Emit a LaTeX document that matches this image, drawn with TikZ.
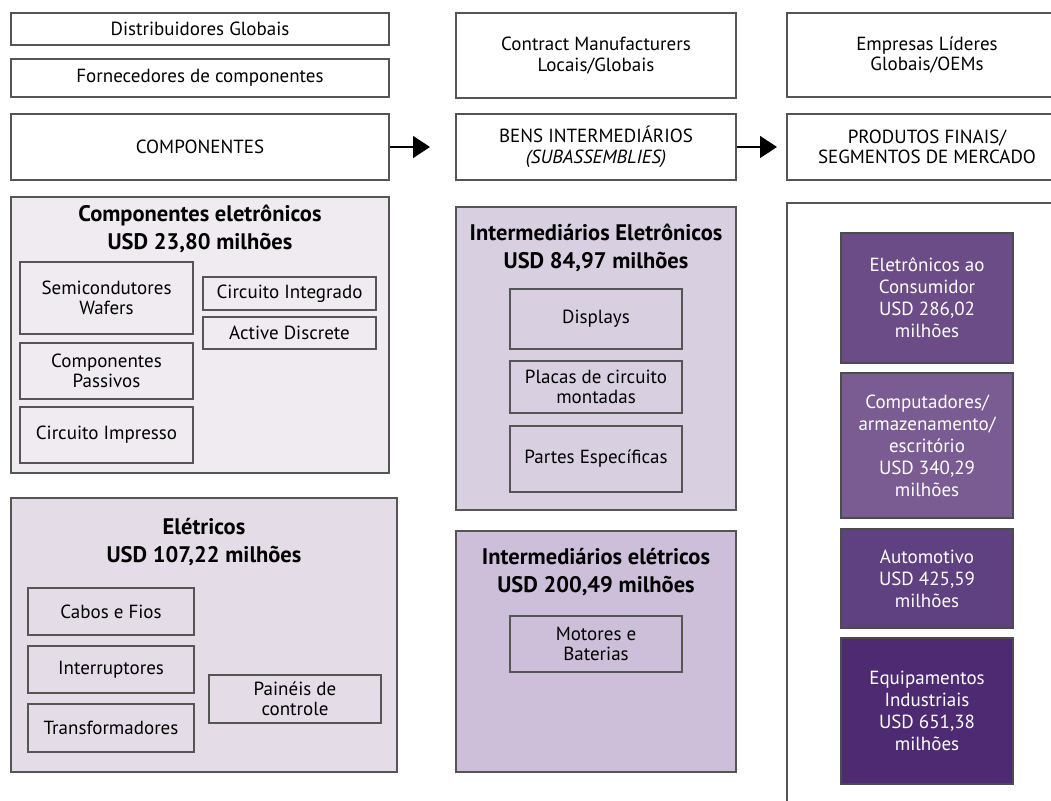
\documentclass[tikz,border=0pt]{standalone}
\usepackage{fontspec}
\setmainfont{PT Sans}
\usepackage{tikz}
\usetikzlibrary{arrows.meta,positioning}
\definecolor{linegray}{HTML}{555555}
\definecolor{compfill}{HTML}{EFEBF0}
\definecolor{eletfill}{HTML}{E4DDE8}
\definecolor{intfill}{HTML}{D8D0E1}
\definecolor{intelfill}{HTML}{CDBFD9}
\definecolor{segA}{HTML}{6B4C86}
\definecolor{segB}{HTML}{7A5C92}
\definecolor{segC}{HTML}{5F4080}
\definecolor{segD}{HTML}{4E2A72}
\tikzset{
  box/.style={draw=linegray, line width=1.1pt, rectangle, align=center, inner sep=0pt,
    font=\fontsize{19}{20.5}\selectfont},
  grouptitle/.style={align=center, inner sep=0pt, font=\fontsize{22.5}{27.5}\selectfont\bfseries},
  segbox/.style={box, draw=black!70, text=white, minimum width=172pt, font=\fontsize{19}{22}\selectfont},
  flow/.style={line width=1.4pt, -{Triangle[length=17pt,width=22pt]}}
}

\begin{document}
\begin{tikzpicture}[x=1pt,y=-1pt]
\useasboundingbox[fill=white] (0,0) rectangle (1051,800);
\clip (0,0) rectangle (1051,800);

\node[box, minimum width=378pt, minimum height=32pt] (dist) at (200,29) {Distribuidores Globais};
\node[box, minimum width=378pt, minimum height=38pt] (forn) at (200,78) {Fornecedores de componentes};
\node[box, minimum width=378pt, minimum height=66pt] (comp) at (200,147) {COMPONENTES};

\node[box, minimum width=280pt, minimum height=85pt] (contract) at (596,55.5) {Contract Manufacturers\\Locais/Globais};
\node[box, minimum width=280pt, minimum height=66pt] (bens) at (596,147) {BENS INTERMEDIÁRIOS\\\textit{(SUBASSEMBLIES)}};

\node[box, minimum width=280pt, minimum height=84pt] (lideres) at (927,55) {Empresas Líderes\\Globais/OEMs};
\node[box, minimum width=280pt, minimum height=66pt] (produtos) at (927,147) {PRODUTOS FINAIS/\\SEGMENTOS DE MERCADO};

\coordinate (tipA) at (430,147);
\coordinate (tipB) at (777,147);
\draw[flow] (comp.east) -- (tipA);
\draw[flow] (bens.east) -- (tipB);

% componentes eletronicos
\node[box, fill=compfill, minimum width=378pt, minimum height=276pt] (compel) at (200,335) {};
\node[grouptitle] (compeltitle) at (200,229) {Componentes eletrônicos\\USD 23,80 milhões};
\node[box, minimum width=173pt, minimum height=72pt] (semi) at (106.5,298) {Semicondutores\\Wafers};
\node[box, minimum width=173pt, minimum height=56pt] (passivos) at (106.5,371) {Componentes\\Passivos};
\node[box, minimum width=173pt, minimum height=56pt] (impresso) at (106.5,435) {Circuito Impresso};
\node[box, minimum width=173pt, minimum height=33pt] (integrado) at (289.5,293.5) {Circuito Integrado};
\node[box, minimum width=173pt, minimum height=32pt] (discrete) at (289.5,333) {Active Discrete};

% eletricos
\node[box, fill=eletfill, minimum width=386pt, minimum height=274pt] (elet) at (204,635) {};
\node[grouptitle] (elettitle) at (204,542) {Elétricos\\USD 107,22 milhões};
\node[box, minimum width=166pt, minimum height=47pt] (cabos) at (111,611.5) {Cabos e Fios};
\node[box, minimum width=166pt, minimum height=47pt] (interr) at (111,669.5) {Interruptores};
\node[box, minimum width=166pt, minimum height=48pt] (transf) at (111,728) {Transformadores};
\node[box, minimum width=172pt, minimum height=48pt] (paineis) at (295,699) {Painéis de\\controle};

% intermediarios
\node[box, fill=intfill, minimum width=280pt, minimum height=303pt] (intel) at (596,358.5) {};
\node[grouptitle] (inteltitle) at (596,248) {Intermediários Eletrônicos\\USD 84,97 milhões};
\node[box, minimum width=172pt, minimum height=60pt] (displays) at (596,319) {Displays};
\node[box, minimum width=172pt, minimum height=52pt] (placas) at (596,387) {Placas de circuito\\montadas};
\node[box, minimum width=172pt, minimum height=66pt] (partes) at (596,459) {Partes Específicas};

\node[box, fill=intelfill, minimum width=280pt, minimum height=241pt] (inelet) at (596,651.5) {};
\node[grouptitle] (ineltitle) at (596,572) {Intermediários elétricos\\USD 200,49 milhões};
\node[box, minimum width=172pt, minimum height=56pt] (motores) at (596,644) {Motores e\\Baterias};

% segmentos
\node[box, minimum width=280pt, minimum height=620pt] (mercado) at (927,513) {};
\node[segbox, fill=segA, minimum height=130pt] (consumo) at (927,298) {Eletrônicos ao\\Consumidor\\USD 286,02\\milhões};
\node[segbox, fill=segB, minimum height=145pt] (computa) at (927,445.5) {Computadores/\\armazenamento/\\escritório\\USD 340,29\\milhões};
\node[segbox, fill=segC, minimum height=99pt] (auto) at (927,578.5) {Automotivo\\USD 425,59\\milhões};
\node[segbox, fill=segD, minimum height=146pt] (industria) at (927,711) {Equipamentos\\Industriais\\USD 651,38\\milhões};
\end{tikzpicture}
\end{document}
